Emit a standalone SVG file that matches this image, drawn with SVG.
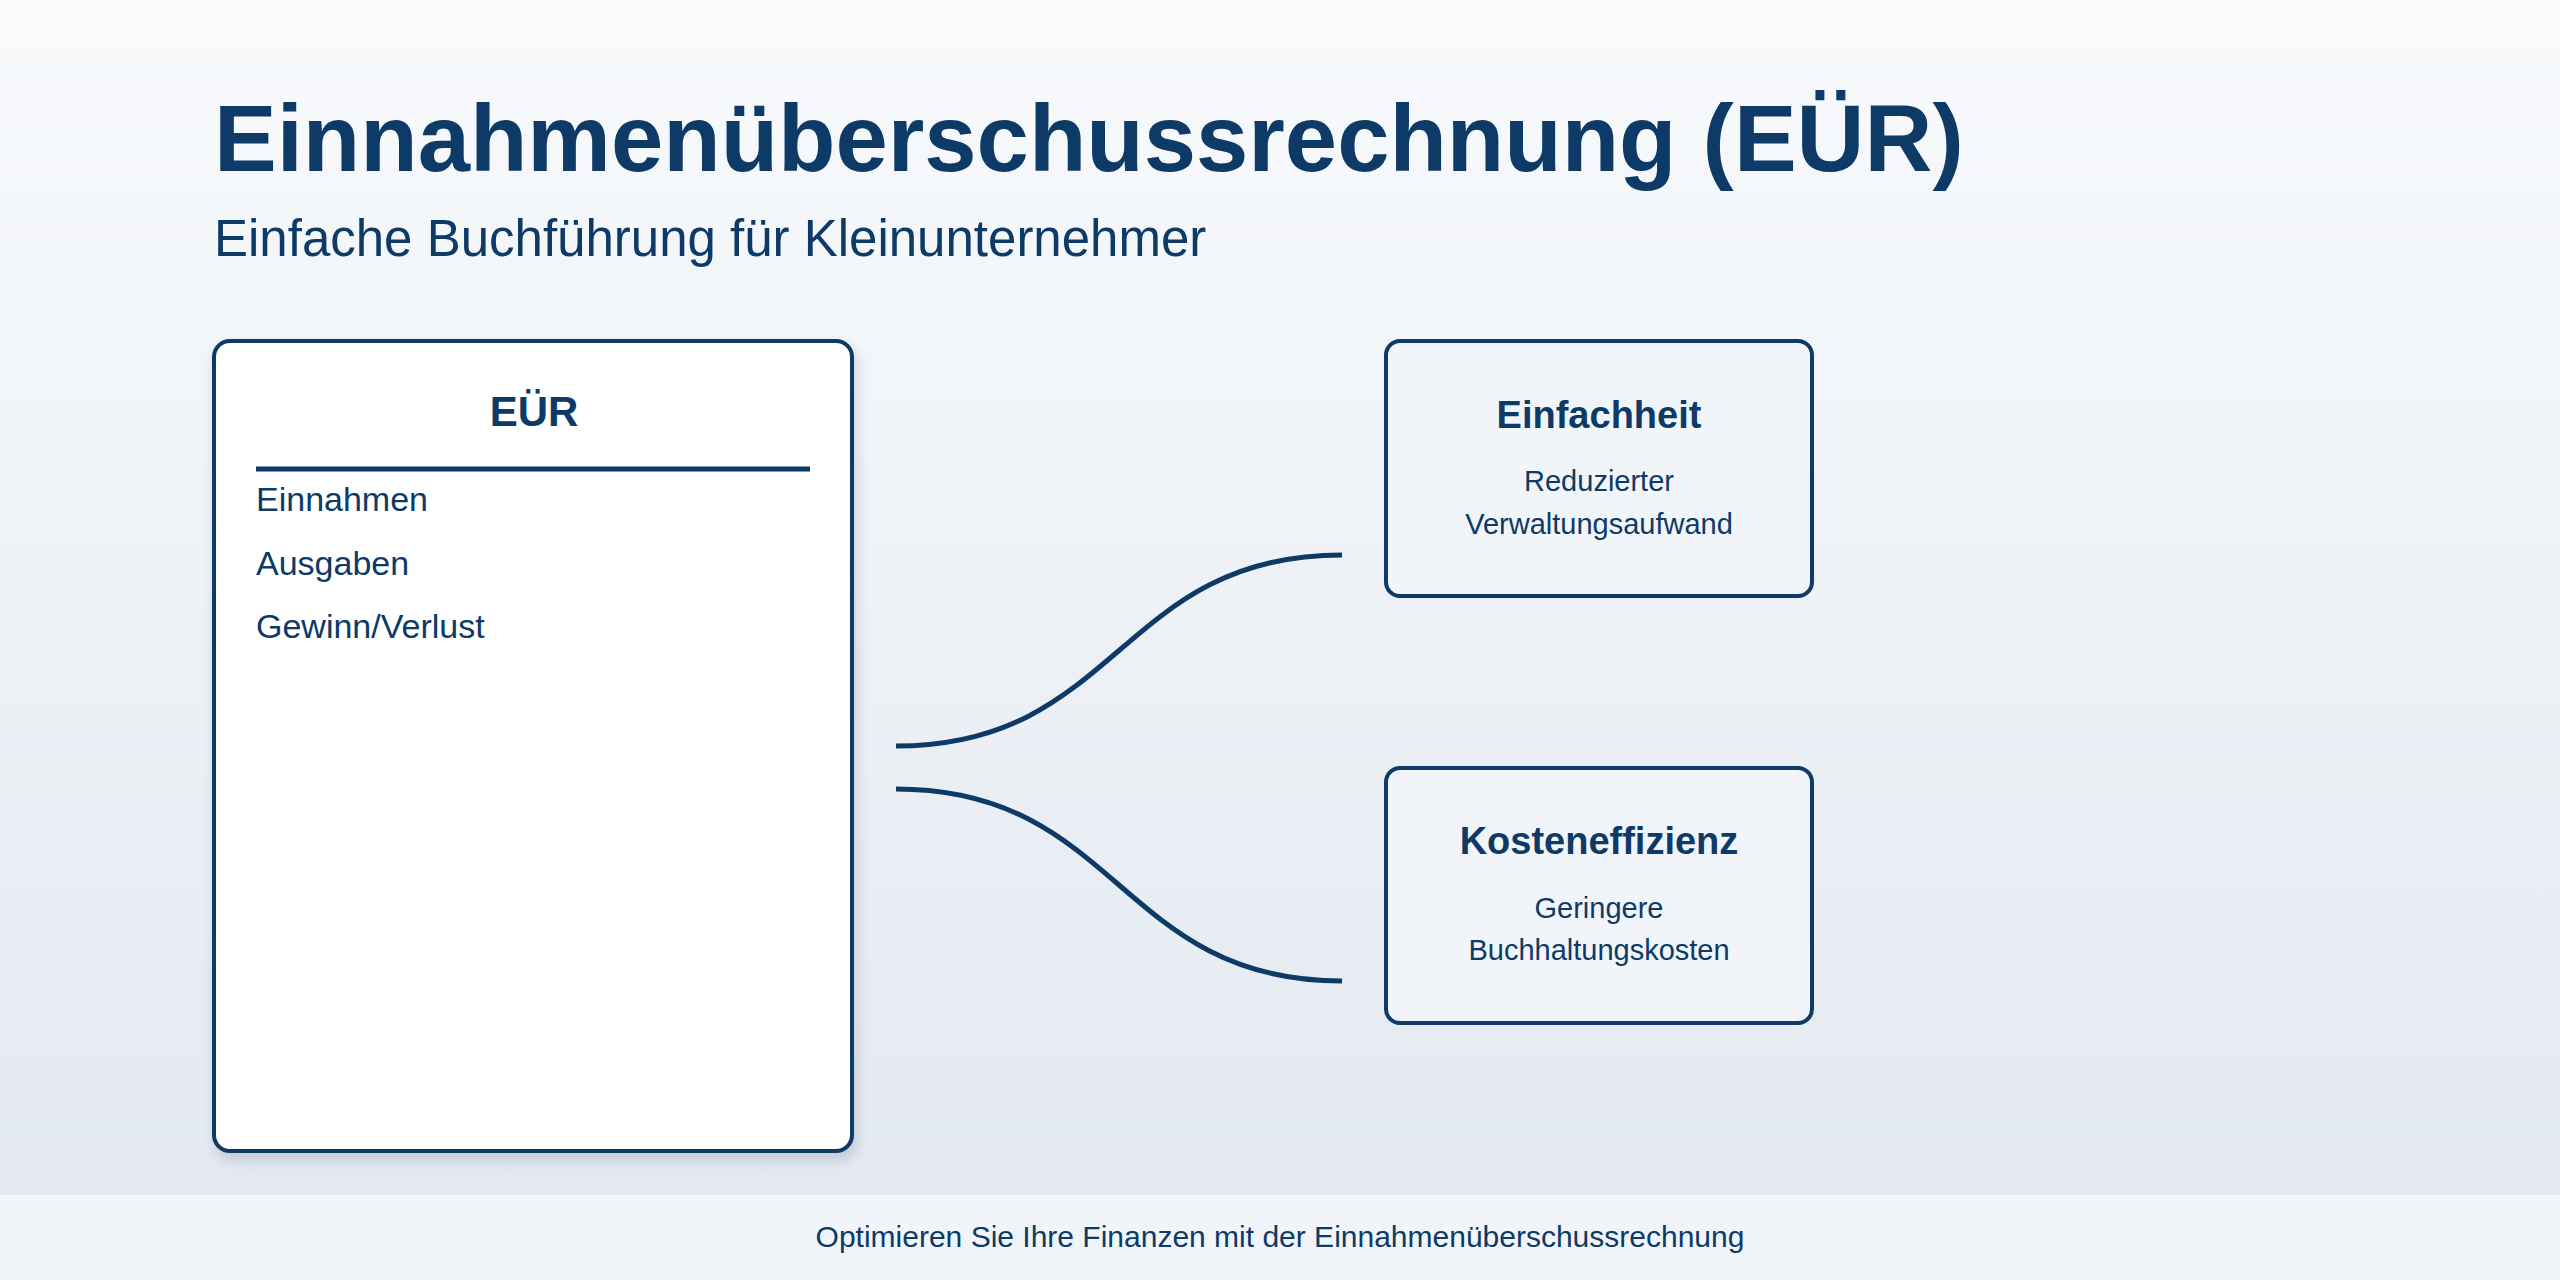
<svg xmlns="http://www.w3.org/2000/svg" width="2560" height="1280" viewBox="0 0 2560 1280">
  <defs>
    <linearGradient id="bg" x1="0" y1="0" x2="0" y2="1">
      <stop offset="0" stop-color="#f8fafc"/>
      <stop offset="1" stop-color="#e2e8f0"/>
    </linearGradient>
    <filter id="shadow" x="-10%" y="-10%" width="125%" height="125%">
      <feDropShadow dx="3" dy="7" stdDeviation="6" flood-color="#334155" flood-opacity="0.18"/>
    </filter>
  </defs>
  <style>
    text { font-family: "Liberation Sans", Arial, Helvetica, sans-serif; fill: #0d3a66; }
    .title { font-size: 94px; font-weight: bold; }
    .subtitle { font-size: 51px; }
    .head { font-size: 42px; font-weight: bold; text-anchor: middle; }
    .item { font-size: 34px; }
    .bhead { font-size: 38px; font-weight: bold; text-anchor: middle; }
    .desc { font-size: 29px; text-anchor: middle; }
    .foot { font-size: 30px; text-anchor: middle; }
    .box { stroke: #0d3a66; stroke-width: 4; }
    .conn { fill: none; stroke: #0d3a66; stroke-width: 5; }
  </style>

  <rect x="0" y="0" width="2560" height="1280" fill="url(#bg)"/>

  <text class="title" x="214" y="171">Einnahmenüberschussrechnung (EÜR)</text>
  <text class="subtitle" x="214" y="256">Einfache Buchführung für Kleinunternehmer</text>

  <g id="connectors">
    <path class="conn" d="M 896 746 C 1119 746, 1119 555, 1342 555"/>
    <path class="conn" d="M 896 789 C 1119 789, 1119 981, 1342 981"/>
  </g>

  <g id="node-eur">
    <rect class="box" x="214" y="341" width="638" height="810" rx="16" fill="#ffffff" filter="url(#shadow)"/>
    <text class="head" x="534" y="426">EÜR</text>
    <line x1="256" y1="469" x2="810" y2="469" stroke="#0d3a66" stroke-width="5"/>
    <text class="item" x="256" y="511">Einnahmen</text>
    <text class="item" x="256" y="575">Ausgaben</text>
    <text class="item" x="256" y="638">Gewinn/Verlust</text>
  </g>

  <g id="node-einfachheit">
    <rect class="box" x="1386" y="341" width="426" height="255" rx="14" fill="#f1f5f9"/>
    <text class="bhead" x="1599" y="428">Einfachheit</text>
    <text class="desc" x="1599" y="491">Reduzierter</text>
    <text class="desc" x="1599" y="534">Verwaltungsaufwand</text>
  </g>

  <g id="node-kosteneffizienz">
    <rect class="box" x="1386" y="768" width="426" height="255" rx="14" fill="#f1f5f9"/>
    <text class="bhead" x="1599" y="854">Kosteneffizienz</text>
    <text class="desc" x="1599" y="918">Geringere</text>
    <text class="desc" x="1599" y="960">Buchhaltungskosten</text>
  </g>

  <g id="footer">
    <rect x="0" y="1195" width="2560" height="85" fill="#f1f5f9"/>
    <text class="foot" x="1280" y="1247">Optimieren Sie Ihre Finanzen mit der Einnahmenüberschussrechnung</text>
  </g>
</svg>
